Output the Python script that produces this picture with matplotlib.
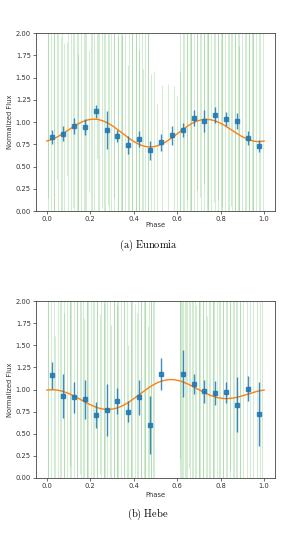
import numpy as np
import matplotlib
matplotlib.use("Agg")
import matplotlib.pyplot as plt

plt.rcParams['mathtext.fontset'] = 'cm'

# ---------------- Data: (a) Eunomia ----------------
eun_raw_phase = [0.003,0.006,0.018,0.031,0.033,0.047,0.052,0.066,
                 0.068,0.081,0.094,0.097,0.109,0.121,0.123,0.138,
                 0.142,0.144,0.159,0.171,0.176,0.178,0.193,0.205,
                 0.207,0.219,0.233,0.236,0.238,0.252,0.264,0.267,
                 0.281,0.284,0.297,0.309,0.311,0.326,0.329,0.343,
                 0.345,0.347,0.361,0.374,0.377,0.392,0.394,0.408,
                 0.411,0.423,0.426,0.438,0.441,0.452,0.464,0.466,
                 0.478,0.492,0.508,0.531,0.556,0.583,0.598,0.611,
                 0.614,0.627,0.631,0.644,0.646,0.659,0.662,0.664,
                 0.677,0.689,0.692,0.706,0.709,0.722,0.724,0.738,
                 0.741,0.743,0.756,0.769,0.772,0.786,0.788,0.801,
                 0.804,0.806,0.819,0.833,0.836,0.849,0.851,0.866,
                 0.868,0.881,0.884,0.886,0.899,0.913,0.916,0.929,
                 0.931,0.944,0.947,0.949,0.962,0.976,0.979,0.993]
eun_raw_flux = [0.82,1.10,0.65,0.95,0.74,1.21,0.88,0.60,
                0.97,0.79,1.15,0.70,0.92,1.05,0.58,0.99,
                0.86,1.24,0.77,0.93,1.12,0.68,1.01,0.90,
                1.18,0.84,1.30,0.96,0.73,1.08,1.15,0.89,
                1.27,0.62,0.99,1.10,0.81,0.94,0.71,1.06,
                0.87,0.66,0.98,0.79,1.13,0.72,0.85,0.59,
                0.93,0.76,0.64,0.88,0.70,0.97,0.55,0.81,
                0.74,0.66,0.60,0.62,0.68,0.70,0.64,0.72,
                0.81,0.98,0.87,1.12,0.79,1.05,0.94,1.20,
                0.88,1.14,0.97,1.26,0.91,1.08,1.17,0.95,
                1.22,1.03,0.89,1.15,1.31,0.98,1.07,0.86,
                1.19,1.02,0.93,1.11,0.84,1.06,0.97,0.78,
                1.04,0.88,0.75,0.96,0.82,0.69,0.91,0.77,
                0.64,0.86,0.72,0.95,0.68,0.81,0.59,0.90]
eun_raw_err = [1.45,0.95,1.80,1.20,2.10,0.85,1.60,1.35,
               1.90,1.10,0.75,1.55,2.30,1.00,1.70,1.25,
               0.90,1.65,1.40,2.00,1.15,1.85,0.80,1.50,
               1.30,2.20,0.70,1.75,1.45,1.05,1.60,2.40,
               1.20,1.90,1.35,0.95,2.05,1.55,1.25,1.80,
               1.10,2.25,1.40,0.85,1.65,1.95,1.30,1.50,
               2.15,1.05,1.70,1.35,0.90,1.60,2.00,1.25,
               0.80,0.90,0.60,0.80,0.75,0.70,0.65,0.85,
               1.85,1.30,2.10,1.00,1.55,1.75,1.20,2.35,
               1.45,0.90,1.65,1.10,2.00,1.35,0.85,1.80,
               1.50,1.25,2.20,1.05,1.70,1.40,0.95,1.90,
               1.15,1.60,2.05,1.30,1.85,1.00,1.55,2.25,
               1.35,1.75,1.10,2.10,1.45,1.95,1.20,1.65,
               2.40,1.30,1.80,1.05,2.00,1.50,2.30,1.70]

eun_bin_phase = [0.025,0.075,0.125,0.175,0.225,0.275,0.325,0.375,0.425,0.475,
                 0.525,0.575,0.625,0.675,0.725,0.775,0.825,0.875,0.925,0.975]
eun_bin_flux = [0.83,0.87,0.95,0.94,1.12,0.91,0.84,0.74,0.81,0.68,
                0.77,0.85,0.91,1.04,1.01,1.08,1.03,1.01,0.82,0.73]
eun_bin_err = [0.075,0.08,0.09,0.09,0.07,0.21,0.07,0.10,0.09,0.11,
               0.10,0.11,0.08,0.09,0.12,0.09,0.08,0.09,0.08,0.07]
# two-harmonic fit: mean, amp1, phase1, amp2, phase2
eun_fit = [0.89, 0.03, 0.98, 0.14, 0.225]

# ---------------- Data: (b) Hebe ----------------
heb_raw_phase = [0.004,0.007,0.021,0.034,0.037,0.049,0.062,0.064,
                 0.078,0.081,0.093,0.106,0.108,0.111,0.124,0.137,
                 0.139,0.152,0.155,0.168,0.171,0.183,0.186,0.188,
                 0.201,0.214,0.217,0.229,0.232,0.246,0.248,0.261,
                 0.263,0.266,0.279,0.292,0.294,0.307,0.309,0.322,
                 0.325,0.327,0.341,0.353,0.356,0.369,0.372,0.386,
                 0.388,0.391,0.404,0.417,0.419,0.432,0.435,0.448,
                 0.451,0.453,0.466,0.469,0.478,0.481,0.487,0.492,
                 0.611,0.614,0.617,0.624,0.627,0.636,0.642,0.645,
                 0.654,0.657,0.669,0.672,0.684,0.687,0.699,0.702,
                 0.704,0.717,0.719,0.732,0.735,0.748,0.751,0.763,
                 0.766,0.768,0.781,0.794,0.797,0.809,0.812,0.826,
                 0.828,0.841,0.844,0.857,0.859,0.872,0.875,0.888,
                 0.891,0.905,0.921,0.934,0.951,0.966,0.979,0.992]
heb_raw_flux = [1.05,0.78,1.22,0.91,0.66,1.14,0.87,1.30,
                0.72,1.01,0.84,1.19,0.63,0.95,1.08,0.76,
                0.89,1.25,0.70,0.98,0.81,1.11,0.59,0.93,
                0.74,0.86,1.02,0.67,0.79,0.95,0.61,0.88,
                0.73,1.04,0.69,0.82,0.58,0.97,0.75,0.90,
                0.84,1.12,0.71,0.94,0.80,1.07,0.65,0.89,
                0.77,0.99,0.62,0.86,1.10,0.72,0.93,0.81,
                0.68,0.91,0.57,0.83,0.95,0.70,0.88,0.62,
                1.13,1.20,1.05,1.27,0.96,1.16,1.08,0.99,
                1.21,0.92,1.04,0.87,1.14,0.95,1.01,0.83,
                0.97,1.10,0.89,1.03,0.78,0.99,1.12,0.85,
                0.94,1.06,0.81,1.00,0.90,1.13,0.76,0.92,
                0.86,0.71,1.09,0.79,0.95,1.18,0.84,1.02,
                0.93,0.74,1.07,0.88,0.69,0.98,0.80,0.66]
heb_raw_err = [1.70,1.25,2.05,1.50,0.95,1.85,1.35,2.20,
               1.15,1.60,2.35,1.05,1.75,1.40,2.10,1.30,
               1.90,1.20,1.55,2.25,1.00,1.65,1.45,1.95,
               1.35,2.15,1.10,1.80,1.50,0.90,2.00,1.60,
               1.25,1.70,2.30,1.40,1.15,1.85,1.55,1.05,
               2.05,1.30,1.75,1.20,1.95,1.45,0.85,1.65,
               1.50,2.20,1.35,1.00,1.80,1.60,1.25,2.10,
               1.40,1.90,1.15,1.70,1.35,1.60,1.20,1.45,
               0.90,1.55,1.30,2.05,1.75,1.20,1.95,1.45,
               1.10,1.85,2.25,1.35,1.60,1.00,2.00,1.50,
               1.25,1.70,1.40,2.15,1.05,1.80,1.30,1.90,
               2.35,1.15,1.65,1.45,2.00,1.20,1.75,1.55,
               1.35,2.10,1.00,1.85,1.60,1.25,2.20,1.40,
               1.70,1.95,1.30,2.05,1.50,1.15,1.80,2.30]

heb_bin_phase = [0.025,0.075,0.125,0.175,0.225,0.275,0.325,0.375,0.425,0.475,
                 0.525,0.625,0.675,0.725,0.775,0.825,0.875,0.925,0.975]
heb_bin_flux = [1.16,0.93,0.91,0.89,0.71,0.77,0.87,0.75,0.91,0.60,
                1.18,1.18,1.06,0.98,0.96,0.97,0.83,1.01,0.72]
heb_bin_err = [0.155,0.25,0.17,0.22,0.15,0.29,0.15,0.12,0.20,0.33,
               0.18,0.27,0.11,0.13,0.14,0.12,0.31,0.14,0.36]
heb_fit = [0.945, 0.085, 0.68, 0.105, 0.05]

x_ticks = [0.0, 0.2, 0.4, 0.6, 0.8, 1.0]
y_ticks = [0.00, 0.25, 0.50, 0.75, 1.00, 1.25, 1.50, 1.75, 2.00]
captions = [r"$\mathrm{(a)\ Eunomia}$", r"$\mathrm{(b)\ Hebe}$"]


def fit_curve(params, x):
    c, a1, p1, a2, p2 = params
    return c + a1 * np.cos(2 * np.pi * (x - p1)) + a2 * np.cos(4 * np.pi * (x - p2))


W, H = 299, 533
fig = plt.figure(figsize=(W / 100, H / 100), dpi=100)

panels = [
    (eun_raw_phase, eun_raw_flux, eun_raw_err, eun_bin_phase, eun_bin_flux, eun_bin_err, eun_fit),
    (heb_raw_phase, heb_raw_flux, heb_raw_err, heb_bin_phase, heb_bin_flux, heb_bin_err, heb_fit),
]
axes_rects = [
    [36 / W, 1 - 211 / H, (275 - 36) / W, (211 - 33) / H],
    [36 / W, 1 - 478 / H, (275 - 36) / W, (478 - 301) / H],
]
caption_y = [1 - 245 / H, 1 - 514 / H]
xlabel_y = [1 - 225 / H, 1 - 495 / H]

for i, (rp, rf, re, bp, bf, be, fp) in enumerate(panels):
    ax = fig.add_axes(axes_rects[i])
    ax.errorbar(rp, rf, yerr=re, fmt='none', ecolor='#2ca02c', alpha=0.2, elinewidth=0.75)
    xx = np.linspace(0, 1, 400)
    ax.plot(xx, fit_curve(fp, xx), color='#ff7f0e', lw=1.0, zorder=3)
    ax.errorbar(bp, bf, yerr=be, fmt='s', color='#1f77b4', ms=3.4, elinewidth=1.0,
                capsize=0, zorder=4, alpha=0.85)
    ax.set_xlim(-0.05, 1.05)
    ax.set_ylim(0, 2)
    ax.set_xticks(x_ticks)
    ax.set_yticks(y_ticks)
    ax.set_xticklabels([f"{t:.1f}" for t in x_ticks])
    ax.set_yticklabels([f"{t:.2f}" for t in y_ticks])
    ax.tick_params(labelsize=4.9, length=2.2, width=0.5, pad=1.5, colors='#333333')
    for s in ax.spines.values():
        s.set_linewidth(0.6)
        s.set_color('#444444')
    ax.set_ylabel("Normalized Flux", fontsize=4.9, labelpad=2, color='#333333')
    fig.text(0.5 * (36 + 275) / W, xlabel_y[i], "Phase", fontsize=4.9, ha='center', va='center',
             color='#333333')
    fig.text(148 / W, caption_y[i], captions[i], fontsize=7.5, ha='center', va='center')

fig.savefig("out.png", dpi=100)
